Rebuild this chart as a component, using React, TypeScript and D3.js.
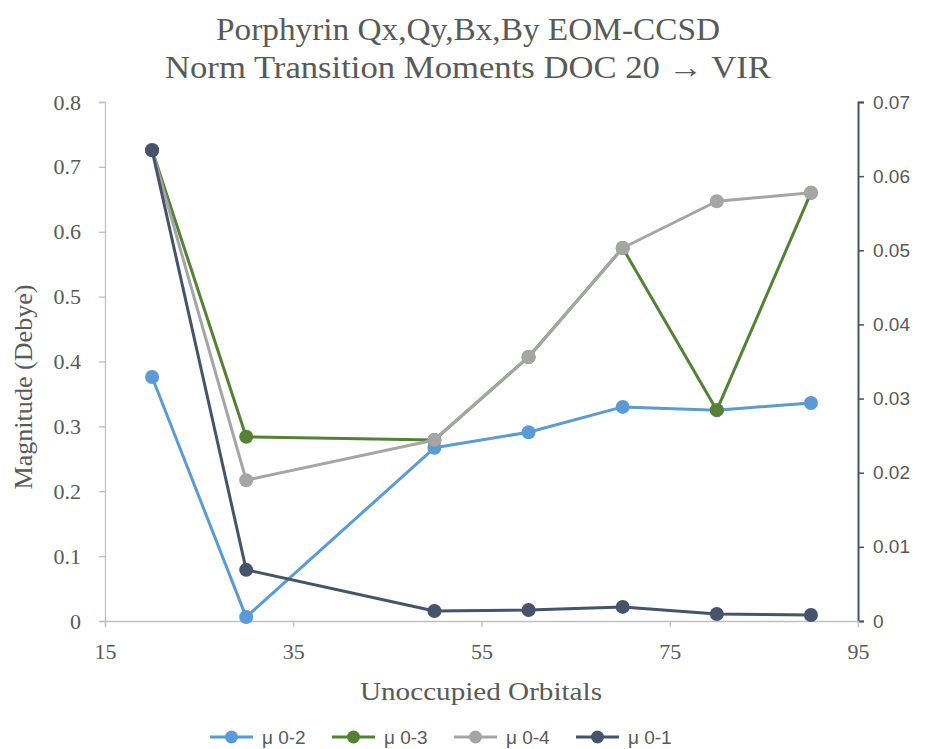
import React, { useEffect, useRef } from 'react';
import * as d3 from 'd3';

const orbitals = [20, 30, 50, 60, 70, 80, 90];
const mu02 = [0.376, 0.006, 0.267, 0.291, 0.33, 0.325, 0.336];
const mu03 = [0.726, 0.284, 0.279, 0.407, 0.575, 0.325, 0.66];
const mu04 = [0.726, 0.217, 0.279, 0.407, 0.575, 0.647, 0.66];
const mu01 = [0.0635, 0.0069, 0.00135, 0.00148, 0.0019, 0.00094, 0.0008];

const xTicks = [15, 35, 55, 75, 95];
const leftTicks = [0, 0.1, 0.2, 0.3, 0.4, 0.5, 0.6, 0.7, 0.8];
const rightTicks = [0, 0.01, 0.02, 0.03, 0.04, 0.05, 0.06, 0.07];

interface Series {
  name: string;
  values: number[];
  color: string;
  secondary: boolean;
}

const series: Series[] = [
  { name: 'μ 0-2', values: mu02, color: '#5b9bd5', secondary: false },
  { name: 'μ 0-3', values: mu03, color: '#548235', secondary: false },
  { name: 'μ 0-4', values: mu04, color: '#a5a5a5', secondary: false },
  { name: 'μ 0-1', values: mu01, color: '#44546a', secondary: true },
];

const SERIF = '"Liberation Serif", "DejaVu Serif", serif';
const SANS = '"Liberation Sans", "Open Sans", sans-serif';
const TXT = '#595959';

const App: React.FC = () => {
  const ref = useRef<SVGSVGElement>(null);

  useEffect(() => {
    const svg = d3.select(ref.current);
    svg.selectAll('*').remove();

    const left = 105, right = 858, top = 102, bottom = 621;

    const x = d3.scaleLinear().domain([15, 95]).range([left, right]);
    const yL = d3.scaleLinear().domain([0, 0.8]).range([bottom, top]);
    const yR = d3.scaleLinear().domain([0, 0.07]).range([bottom, top]);

    // title (stretched a bit, the original font is wider)
    const titleLine = (txt: string, y: number, len: number) =>
      svg.append('text')
        .attr('x', 468).attr('y', y)
        .attr('text-anchor', 'middle')
        .attr('textLength', len)
        .attr('lengthAdjust', 'spacingAndGlyphs')
        .style('font-family', SERIF)
        .style('font-size', '31px')
        .attr('fill', TXT)
        .text(txt);
    titleLine('Porphyrin Qx,Qy,Bx,By EOM-CCSD', 40, 504);
    titleLine('Norm Transition Moments DOC 20 → VIR', 78, 606);

    // left axis
    const gL = svg.append('g').attr('transform', `translate(${left},0)`);
    gL.call(d3.axisLeft(yL).tickValues(leftTicks).tickSize(6).tickPadding(18)
      .tickFormat(d => d3.format('')(+d)));
    gL.select('.domain').attr('stroke', '#bfbfbf').attr('stroke-width', 1.3);
    gL.selectAll('.tick line').attr('stroke', '#bfbfbf').attr('stroke-width', 1.3);
    gL.selectAll('.tick text')
      .style('font-family', SERIF).style('font-size', '22px').attr('fill', TXT);

    // right axis
    const gR = svg.append('g').attr('transform', `translate(${right},0)`);
    gR.call(d3.axisRight(yR).tickValues(rightTicks).tickSize(6).tickPadding(9)
      .tickFormat(d => (+d === 0 ? '0' : d3.format('.2f')(+d))));
    gR.select('.domain').attr('stroke', '#44546a').attr('stroke-width', 2);
    gR.selectAll('.tick line').attr('stroke', '#44546a').attr('stroke-width', 1.5);
    gR.selectAll('.tick text')
      .style('font-family', SANS).style('font-size', '19px').attr('fill', TXT);

    // bottom axis
    const gB = svg.append('g').attr('transform', `translate(0,${bottom})`);
    gB.call(d3.axisBottom(x).tickValues(xTicks).tickSize(6).tickPadding(16));
    gB.select('.domain').attr('stroke', '#bfbfbf').attr('stroke-width', 1.3);
    gB.selectAll('.tick line').attr('stroke', '#bfbfbf').attr('stroke-width', 1.3);
    gB.selectAll('.tick text')
      .style('font-family', SERIF).style('font-size', '22px').attr('fill', TXT);

    // axis titles
    svg.append('text')
      .attr('x', 481).attr('y', 700)
      .attr('text-anchor', 'middle')
      .attr('textLength', 242)
      .attr('lengthAdjust', 'spacingAndGlyphs')
      .style('font-family', SERIF).style('font-size', '25px')
      .attr('fill', TXT)
      .text('Unoccupied Orbitals');

    svg.append('text')
      .attr('transform', `translate(32,387) rotate(-90)`)
      .attr('text-anchor', 'middle')
      .attr('textLength', 205)
      .attr('lengthAdjust', 'spacingAndGlyphs')
      .style('font-family', SERIF).style('font-size', '25px')
      .attr('fill', TXT)
      .text('Magnitude (Debye)');

    // series
    series.forEach(s => {
      const yS = s.secondary ? yR : yL;
      const pts = s.values.map((v, i) => [orbitals[i], v] as [number, number]);
      const line = d3.line<[number, number]>().x(d => x(d[0])).y(d => yS(d[1]));
      const g = svg.append('g');
      g.append('path')
        .attr('d', line(pts))
        .attr('fill', 'none')
        .attr('stroke', s.color)
        .attr('stroke-width', 3)
        .attr('stroke-linejoin', 'round');
      g.selectAll('circle')
        .data(pts)
        .enter()
        .append('circle')
        .attr('cx', d => x(d[0]))
        .attr('cy', d => yS(d[1]))
        .attr('r', 7)
        .attr('fill', s.color);
    });

    // legend
    const legendX = [210, 332, 454, 576];
    const lg = svg.append('g').attr('transform', 'translate(0,737)');
    series.forEach((s, i) => {
      const item = lg.append('g').attr('transform', `translate(${legendX[i]},0)`);
      item.append('line')
        .attr('x1', 0).attr('x2', 43).attr('y1', 0).attr('y2', 0)
        .attr('stroke', s.color).attr('stroke-width', 3);
      item.append('circle').attr('cx', 21.5).attr('cy', 0).attr('r', 6.5).attr('fill', s.color);
      item.append('text')
        .attr('x', 52).attr('y', 7)
        .style('font-family', SANS).style('font-size', '19px')
        .attr('fill', TXT)
        .text(s.name);
    });
  }, []);

  return (
    <svg
      ref={ref}
      width={925}
      height={749}
      style={{ position: 'absolute', left: 0, top: 0, background: '#fff' }}
    />
  );
};

export default App;
